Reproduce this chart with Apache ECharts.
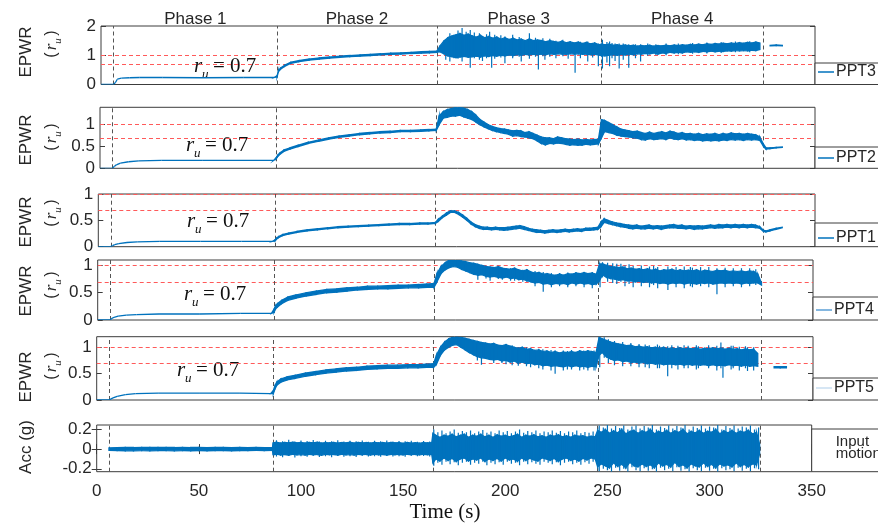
<!DOCTYPE html>
<html><head><meta charset="utf-8">
<script src="https://cdn.jsdelivr.net/npm/echarts@6/dist/echarts.min.js"></script>
<style>html,body{margin:0;padding:0;background:#fff}#c{width:878px;height:525px}</style>
</head><body><div id="c"></div>
<script>
// ---------- DATA ----------
const phaseBounds = [6.2, 86.3, 164.6, 245, 324.8];
const phaseNames = ['Phase 1', 'Phase 2', 'Phase 3', 'Phase 4'];
const thresholds = [1, 0.7];
const xTickValues = [0, 50, 100, 150, 200, 250, 300, 350];

// shared time samples for the EPWR panels (s)
const timeT = [0,6,7,8,10,14,19,30,50,70,85,
 86.3,87,88,90,93,97,102,107,112,117,122,127,132,137,142,147,152,157,161,164.6,
 166,168,170,172,174,176,178,180,182,184,186,188,190,192,194,196,198,200,202,204,206,208,210,212,214,216,218,220,222,224,226,228,230,232,234,236,238,240,242,244,
 245.5,
 247,249,251,253,255,257,259,261,263,265,267,269,271,273,275,277,279,281,283,285,287,289,291,293,295,297,299,301,303,305,307,309,311,313,315,317,319,321,323,
 324.8,326,328,331,334,337];

// PPT3: dense-core upper / lower envelope
const ppt3Hi = [0,0,0.06,0.18,0.22,0.23,0.24,0.24,0.23,0.24,0.24,
 0.3,0.48,0.56,0.66,0.76,0.82,0.87,0.91,0.94,0.97,0.99,1.01,1.03,1.05,1.07,1.08,1.1,1.12,1.13,1.14,
 1.3,1.48,1.6,1.66,1.7,1.74,1.68,1.72,1.66,1.62,1.68,1.6,1.64,1.58,1.62,1.55,1.6,1.54,1.58,1.52,1.55,1.5,1.56,1.5,1.52,1.5,1.46,1.5,1.47,1.44,1.48,1.43,1.46,1.42,1.45,1.4,1.44,1.39,1.42,1.36,
 1.38,
 1.36,1.38,1.34,1.36,1.33,1.35,1.32,1.34,1.31,1.33,1.32,1.34,1.31,1.33,1.32,1.34,1.32,1.35,1.33,1.36,1.34,1.37,1.35,1.38,1.36,1.39,1.37,1.4,1.38,1.41,1.39,1.42,1.4,1.43,1.41,1.44,1.42,1.45,1.42,
 null,null,1.34,1.35,1.34,null];
const ppt3Lo = [0,0,0.06,0.18,0.22,0.23,0.24,0.24,0.23,0.24,0.24,
 0.26,0.44,0.52,0.62,0.72,0.78,0.83,0.87,0.9,0.93,0.95,0.97,0.99,1.01,1.03,1.04,1.06,1.07,1.08,1.1,
 1.12,1.05,0.98,0.95,0.92,0.94,0.96,0.93,0.95,0.97,0.94,0.98,0.96,0.99,0.97,1.0,0.98,1.01,0.99,1.02,1.0,1.03,1.01,1.03,1.02,1.04,1.02,1.05,1.03,1.05,1.04,1.03,1.05,1.04,1.05,1.03,1.04,1.02,1.03,1.01,
 0.98,
 0.98,1.0,1.02,1.0,1.03,1.01,1.04,1.02,1.05,1.04,1.06,1.05,1.08,1.04,1.08,1.06,1.1,1.08,1.1,1.08,1.12,1.1,1.12,1.1,1.13,1.12,1.14,1.12,1.14,1.13,1.15,1.14,1.16,1.15,1.16,1.15,1.17,1.16,1.2,
 null,null,1.32,1.33,1.32,null];
// PPT3 isolated spikes
const ppt3SpikeT  = [169,171,173,175,177,179,181,183,185.5,187,189,190.5,191.5,193,196,198,201.8,205,206,210,213,214.4,216.6,217.6,220,223,226.4,229,232.4,235,238.6,241,243.8,245.8,248,249.3,250.5,252,254,256,258.7,262,264.5,268,272,277,283,290,297,304,311,318];
const ppt3SpikeLo = [0.85,0.79,0.9,0.88,0.79,0.95,0.57,0.9,0.85,0.8,0.9,0.95,0.57,0.88,0.92,0.73,0.9,0.95,0.79,0.88,0.95,0.51,0.97,0.85,0.95,0.9,0.97,0.88,0.4,0.9,0.79,0.92,0.62,0.55,0.75,0.62,0.9,0.8,0.55,0.85,0.57,0.9,0.79,0.98,1.0,1.0,1.03,1.05,1.06,1.08,1.1,1.1];
const ppt3SpikeHi = [1.55,1.75,1.7,1.85,1.93,1.8,1.86,1.78,1.75,1.65,1.72,1.8,1.6,1.7,1.68,1.64,1.7,1.62,1.5,1.75,1.6,1.45,1.58,1.45,1.56,1.5,1.53,1.45,1.4,1.46,1.47,1.42,1.4,1.53,1.45,1.47,1.42,1.4,1.4,1.4,1.38,1.38,1.38,1.4,1.38,1.4,1.4,1.42,1.44,1.45,1.47,1.48];

// PPT2
const ppt2Hi = [0,0,0.04,0.08,0.12,0.15,0.17,0.18,0.18,0.18,0.18,
 0.25,0.3,0.35,0.42,0.47,0.53,0.6,0.65,0.7,0.74,0.77,0.8,0.82,0.84,0.85,0.87,0.87,0.88,0.89,0.9,
 1.2,1.3,1.35,1.37,1.4,1.41,1.38,1.35,1.3,1.22,1.12,1.06,1.0,0.96,0.93,0.91,0.9,0.88,0.86,0.87,0.86,0.82,0.84,0.8,0.76,0.72,0.7,0.7,0.68,0.72,0.7,0.68,0.67,0.66,0.67,0.65,0.66,0.65,0.66,0.67,
 1.12,
 1.1,1.05,1.0,0.95,0.9,0.88,0.86,0.84,0.85,0.82,0.8,0.83,0.8,0.82,0.84,0.81,0.85,0.83,0.8,0.82,0.79,0.8,0.78,0.8,0.77,0.79,0.78,0.8,0.77,0.8,0.78,0.81,0.79,0.8,0.78,0.8,0.78,0.77,0.72,
 0.55,0.47,0.47,0.48,0.49,null];
const ppt2Lo = [0,0,0.04,0.08,0.12,0.15,0.17,0.18,0.18,0.18,0.18,
 0.22,0.27,0.32,0.39,0.44,0.5,0.57,0.62,0.67,0.71,0.74,0.77,0.79,0.81,0.82,0.84,0.84,0.85,0.86,0.87,
 1.0,1.15,1.17,1.2,1.2,1.22,1.18,1.15,1.12,1.06,1.0,0.95,0.91,0.87,0.84,0.82,0.8,0.78,0.74,0.75,0.73,0.72,0.7,0.68,0.63,0.57,0.54,0.57,0.56,0.58,0.57,0.55,0.53,0.54,0.53,0.53,0.55,0.54,0.55,0.56,
 0.7,
 0.84,0.82,0.8,0.76,0.74,0.73,0.72,0.7,0.69,0.66,0.65,0.68,0.66,0.67,0.68,0.66,0.7,0.67,0.66,0.68,0.65,0.66,0.64,0.65,0.63,0.64,0.63,0.64,0.63,0.65,0.64,0.66,0.65,0.66,0.64,0.66,0.65,0.66,0.64,
 0.5,0.44,0.45,0.47,0.48,null];

// PPT1
const ppt1Hi = [0,0,0.02,0.04,0.06,0.08,0.09,0.1,0.1,0.1,0.1,
 0.13,0.16,0.19,0.23,0.26,0.29,0.32,0.34,0.36,0.38,0.39,0.4,0.41,0.42,0.43,0.44,0.44,0.45,0.45,0.46,
 0.52,0.58,0.64,0.68,0.68,0.65,0.6,0.54,0.47,0.42,0.39,0.37,0.37,0.36,0.37,0.36,0.36,0.37,0.38,0.39,0.4,0.38,0.35,0.33,0.32,0.31,0.3,0.31,0.32,0.31,0.32,0.33,0.32,0.33,0.34,0.33,0.35,0.35,0.36,0.37,
 0.47,
 0.53,0.5,0.47,0.45,0.44,0.42,0.41,0.4,0.41,0.39,0.4,0.41,0.39,0.4,0.39,0.4,0.41,0.42,0.4,0.41,0.39,0.4,0.39,0.4,0.39,0.4,0.41,0.4,0.42,0.41,0.42,0.41,0.42,0.41,0.42,0.41,0.42,0.41,0.38,
 0.31,0.3,0.32,0.35,0.37,null];
const ppt1Lo = [0,0,0.02,0.04,0.06,0.08,0.09,0.1,0.1,0.1,0.1,
 0.11,0.14,0.17,0.21,0.24,0.27,0.3,0.32,0.34,0.36,0.37,0.38,0.39,0.4,0.41,0.42,0.42,0.43,0.43,0.44,
 0.48,0.55,0.6,0.65,0.65,0.61,0.56,0.5,0.43,0.38,0.35,0.33,0.33,0.32,0.33,0.32,0.31,0.32,0.33,0.34,0.35,0.33,0.31,0.29,0.27,0.27,0.26,0.27,0.28,0.27,0.28,0.29,0.28,0.29,0.3,0.29,0.31,0.31,0.32,0.33,
 0.38,
 0.46,0.44,0.42,0.4,0.38,0.37,0.35,0.34,0.35,0.34,0.34,0.35,0.34,0.35,0.33,0.35,0.36,0.36,0.35,0.35,0.34,0.35,0.33,0.34,0.34,0.35,0.36,0.35,0.36,0.36,0.37,0.36,0.37,0.36,0.37,0.36,0.37,0.36,0.35,
 0.29,0.28,0.3,0.33,0.36,null];

// PPT4
const ppt4Hi = [0,0,0.03,0.05,0.07,0.09,0.1,0.11,0.11,0.12,0.12,
 0.2,0.26,0.3,0.36,0.42,0.46,0.5,0.53,0.56,0.57,0.59,0.6,0.62,0.62,0.63,0.64,0.64,0.65,0.66,0.67,
 0.85,0.98,1.05,1.1,1.1,1.1,1.08,1.07,1.05,1.04,1.02,1.0,0.98,0.97,0.96,0.98,0.95,0.94,0.93,0.95,0.92,0.9,0.92,0.88,0.86,0.87,0.84,0.85,0.83,0.82,0.84,0.82,0.85,0.84,0.86,0.85,0.87,0.85,0.86,0.84,
 1.02,
 1.03,1.0,0.98,0.97,0.96,0.97,0.94,0.95,0.93,0.94,0.92,0.94,0.91,0.93,0.9,0.92,0.91,0.93,0.9,0.92,0.9,0.91,0.9,0.92,0.89,0.91,0.9,0.89,0.91,0.9,0.91,0.89,0.9,0.89,0.9,0.88,0.9,0.89,0.84,
 0.68,null,null,null,null,null];
const ppt4Lo = [0,0,0.03,0.05,0.07,0.09,0.1,0.11,0.11,0.12,0.12,
 0.14,0.2,0.24,0.3,0.36,0.4,0.44,0.47,0.5,0.51,0.53,0.55,0.56,0.57,0.57,0.58,0.59,0.59,0.6,0.6,
 0.7,0.85,0.92,0.96,0.98,0.97,0.93,0.9,0.87,0.84,0.82,0.83,0.8,0.79,0.8,0.78,0.77,0.79,0.76,0.77,0.74,0.75,0.72,0.7,0.68,0.69,0.66,0.67,0.65,0.67,0.66,0.67,0.65,0.68,0.66,0.68,0.66,0.67,0.65,0.66,
 0.72,
 0.83,0.78,0.76,0.75,0.73,0.74,0.72,0.72,0.7,0.71,0.69,0.7,0.68,0.69,0.67,0.68,0.66,0.68,0.67,0.68,0.66,0.68,0.67,0.66,0.68,0.67,0.68,0.66,0.67,0.68,0.67,0.68,0.67,0.68,0.66,0.68,0.67,0.68,0.68,
 0.64,null,null,null,null,null];
const ppt4SpikeT  = [186,190,192,196,198,202,204,208,210,214,218,222,226,230,234,238,242,245.8,247,249.5,252,254,256,258,260,262,266,270,272,274,279,283,287,290,291,295,299,303,307,311,315,319,322];
const ppt4SpikeLo = [0.74,0.76,0.72,0.75,0.74,0.72,0.72,0.7,0.7,0.62,0.52,0.6,0.62,0.6,0.62,0.6,0.58,0.6,0.78,0.7,0.68,0.66,0.7,0.62,0.66,0.6,0.62,0.6,0.64,0.58,0.55,0.6,0.58,0.62,0.6,0.62,0.6,0.47,0.6,0.62,0.6,0.62,0.64];
const ppt4SpikeHi = [1.0,0.99,0.96,0.97,0.95,0.95,0.93,0.92,0.93,0.9,0.88,0.86,0.86,0.87,0.88,0.88,0.88,1.04,1.06,1.05,1.04,1.03,1.03,1.0,1.02,0.99,1.0,0.98,0.99,0.97,0.98,0.97,0.98,0.97,0.96,0.97,0.97,0.95,0.96,0.95,0.95,0.95,0.93];

// PPT5
const ppt5Hi = [0,0,0.02,0.04,0.07,0.1,0.12,0.13,0.13,0.13,0.12,
 0.18,0.26,0.34,0.4,0.44,0.47,0.51,0.54,0.57,0.59,0.61,0.62,0.64,0.65,0.66,0.66,0.67,0.67,0.68,0.69,
 0.85,1.0,1.1,1.16,1.19,1.2,1.19,1.17,1.15,1.13,1.11,1.09,1.08,1.06,1.07,1.04,1.03,1.05,1.02,1.0,0.98,1.0,0.96,0.97,0.94,0.95,0.92,0.93,0.9,0.92,0.89,0.91,0.9,0.92,0.9,0.93,0.91,0.93,0.92,0.9,
 1.19,
 1.16,1.13,1.1,1.08,1.06,1.05,1.03,1.04,1.01,1.02,1.0,1.01,0.99,1.0,0.98,1.0,0.97,0.99,0.97,0.99,0.97,0.98,0.97,0.99,0.96,0.98,0.97,0.99,0.97,0.98,0.96,0.98,0.96,0.97,0.95,0.97,0.95,0.96,0.88,
 null,null,null,0.63,0.63,0.63];
const ppt5Lo = [0,0,0.02,0.04,0.07,0.1,0.12,0.13,0.13,0.13,0.12,
 0.12,0.2,0.28,0.34,0.38,0.41,0.45,0.48,0.51,0.53,0.55,0.56,0.58,0.59,0.6,0.6,0.61,0.61,0.62,0.62,
 0.68,0.85,0.95,1.0,1.04,1.05,1.0,0.95,0.9,0.86,0.82,0.8,0.79,0.77,0.76,0.77,0.74,0.75,0.72,0.74,0.7,0.72,0.69,0.7,0.67,0.68,0.65,0.66,0.64,0.65,0.64,0.63,0.65,0.63,0.65,0.63,0.64,0.62,0.64,0.63,
 0.85,
 0.9,0.82,0.78,0.75,0.76,0.73,0.74,0.71,0.72,0.7,0.71,0.69,0.7,0.68,0.69,0.67,0.68,0.68,0.67,0.68,0.66,0.68,0.66,0.67,0.66,0.67,0.65,0.67,0.65,0.66,0.65,0.67,0.65,0.66,0.64,0.66,0.64,0.65,0.64,
 null,null,null,0.61,0.61,0.61];
const ppt5SpikeT  = [186,188,194,198,200,203,206,210,212,216,218,222,224,228,230,232,236,238,240,243,245.8,248,250,253,257,261,265,268,270,274,275,279,281,284,287,289,293,294,299,303,305,306,310,311,314,317,318,321];
const ppt5SpikeLo = [0.75,0.67,0.7,0.7,0.68,0.66,0.65,0.64,0.62,0.6,0.58,0.56,0.5,0.56,0.58,0.58,0.56,0.58,0.56,0.56,0.62,0.8,0.7,0.66,0.64,0.64,0.62,0.62,0.6,0.6,0.6,0.45,0.6,0.58,0.6,0.6,0.58,0.6,0.6,0.56,0.6,0.42,0.58,0.6,0.56,0.6,0.55,0.56];
const ppt5SpikeHi = [1.1,1.08,1.08,1.04,1.06,1.04,1.0,1.0,0.99,0.97,0.96,0.95,0.94,0.94,0.93,0.95,0.94,0.94,0.95,0.94,1.2,1.19,1.15,1.12,1.1,1.08,1.06,1.05,1.04,1.05,1.03,1.02,1.04,1.03,1.04,1.03,1.04,1.02,1.04,1.03,1.09,1.0,1.03,1.03,1.01,1.02,1.0,1.0];

// Input motion (acceleration, g): dense core envelope
const accT = [6,10,14,18,22,26,30,34,38,42,46,50,54,58,62,66,70,74,78,82,86,
 86.4,88,90,92,94,96,98,100,102,104,106,108,110,112,114,116,118,120,122,124,126,128,130,132,134,136,138,140,142,144,146,148,150,152,154,156,158,160,162,164,
 164.6,166,168,170,172,174,176,178,180,182,184,186,188,190,192,194,196,198,200,202,204,206,208,210,212,214,216,218,220,222,224,226,228,230,232,234,236,238,240,242,244,
 245.2,247,249,251,253,255,257,259,261,263,265,267,269,271,273,275,277,279,281,283,285,287,289,291,293,295,297,299,301,303,305,307,309,311,313,315,317,319,321,323,
 324.5];
const accHi = [0.012,0.015,0.017,0.016,0.018,0.017,0.016,0.017,0.016,0.018,0.016,0.017,0.015,0.017,0.016,0.015,0.016,0.014,0.016,0.015,0.014,
 0.065,0.07,0.062,0.068,0.064,0.07,0.063,0.067,0.061,0.068,0.064,0.069,0.062,0.066,0.063,0.068,0.061,0.066,0.063,0.069,0.062,0.067,0.064,0.066,0.061,0.068,0.063,0.066,0.061,0.067,0.064,0.066,0.06,0.067,0.062,0.065,0.06,0.066,0.063,0.065,
 0.16,0.14,0.12,0.14,0.13,0.15,0.125,0.14,0.15,0.12,0.14,0.13,0.15,0.125,0.14,0.12,0.145,0.13,0.14,0.125,0.135,0.15,0.12,0.14,0.13,0.145,0.125,0.135,0.12,0.14,0.13,0.145,0.125,0.135,0.12,0.14,0.13,0.135,0.12,0.13,0.125,
 0.19,0.17,0.2,0.16,0.185,0.165,0.2,0.155,0.18,0.19,0.16,0.185,0.17,0.2,0.155,0.18,0.165,0.19,0.16,0.185,0.17,0.2,0.155,0.18,0.165,0.19,0.16,0.18,0.17,0.2,0.155,0.185,0.165,0.19,0.16,0.18,0.17,0.19,0.155,0.17,
 0.05];
const accLo = [-0.012,-0.015,-0.017,-0.018,-0.015,-0.018,-0.016,-0.016,-0.018,-0.016,-0.017,-0.015,-0.017,-0.016,-0.016,-0.017,-0.015,-0.016,-0.014,-0.015,-0.014,
 -0.058,-0.052,-0.06,-0.055,-0.062,-0.053,-0.058,-0.056,-0.061,-0.054,-0.059,-0.055,-0.063,-0.053,-0.057,-0.055,-0.06,-0.053,-0.058,-0.056,-0.061,-0.054,-0.057,-0.055,-0.06,-0.053,-0.058,-0.055,-0.06,-0.054,-0.057,-0.055,-0.059,-0.053,-0.057,-0.055,-0.058,-0.053,-0.057,-0.055,
 -0.14,-0.1,-0.12,-0.09,-0.115,-0.095,-0.125,-0.1,-0.09,-0.12,-0.1,-0.11,-0.09,-0.125,-0.1,-0.115,-0.095,-0.12,-0.09,-0.11,-0.1,-0.125,-0.09,-0.115,-0.095,-0.11,-0.12,-0.09,-0.1,-0.115,-0.095,-0.125,-0.1,-0.09,-0.115,-0.1,-0.12,-0.095,-0.11,-0.09,-0.1,
 -0.18,-0.15,-0.17,-0.19,-0.14,-0.175,-0.155,-0.19,-0.135,-0.17,-0.18,-0.15,-0.175,-0.16,-0.19,-0.14,-0.17,-0.155,-0.18,-0.135,-0.175,-0.16,-0.19,-0.15,-0.17,-0.18,-0.14,-0.175,-0.155,-0.19,-0.15,-0.17,-0.16,-0.18,-0.14,-0.175,-0.155,-0.18,-0.15,-0.16,
 -0.05];
// Input motion peaks
const accSpikeT = [88,91,94,97,100,103,106,109,112,115,118,121,124,127,130,133,136,139,142,145,148,151,154,157,160,163,
 165,167,169,171,173,175,177,179,181,183,185,187,189,191,193,195,197,199,201,203,205,207,209,211,213,215,217,219,221,223,225,227,229,231,233,235,237,239,241,243,
 246,248,250,252,254,256,258,260,262,264,266,268,270,272,274,276,278,280,282,284,286,288,290,292,294,296,298,300,302,304,306,308,310,312,314,316,318,320,322,324];
const accSpikeHi = [0.09,0.08,0.095,0.078,0.088,0.082,0.092,0.076,0.086,0.08,0.09,0.078,0.085,0.08,0.088,0.075,0.084,0.08,0.087,0.076,0.083,0.079,0.086,0.075,0.082,0.078,
 0.2,0.17,0.19,0.16,0.18,0.2,0.165,0.185,0.17,0.19,0.16,0.18,0.195,0.165,0.18,0.16,0.19,0.17,0.185,0.16,0.18,0.2,0.165,0.185,0.17,0.19,0.16,0.18,0.17,0.19,0.165,0.185,0.16,0.18,0.17,0.19,0.16,0.175,0.165,0.18,
 0.24,0.22,0.245,0.21,0.235,0.215,0.24,0.2,0.23,0.24,0.21,0.235,0.22,0.245,0.2,0.23,0.215,0.24,0.21,0.235,0.22,0.245,0.2,0.23,0.215,0.24,0.21,0.23,0.22,0.245,0.2,0.235,0.215,0.24,0.21,0.23,0.22,0.24,0.2,0.22];
const accSpikeLo = [-0.075,-0.082,-0.07,-0.085,-0.072,-0.078,-0.068,-0.08,-0.074,-0.083,-0.07,-0.078,-0.072,-0.08,-0.068,-0.076,-0.073,-0.079,-0.07,-0.075,-0.072,-0.078,-0.069,-0.074,-0.071,-0.076,
 -0.17,-0.14,-0.16,-0.13,-0.155,-0.135,-0.165,-0.14,-0.13,-0.16,-0.14,-0.15,-0.13,-0.165,-0.14,-0.155,-0.135,-0.16,-0.13,-0.15,-0.14,-0.165,-0.13,-0.155,-0.135,-0.15,-0.16,-0.13,-0.14,-0.155,-0.135,-0.165,-0.14,-0.13,-0.155,-0.14,-0.16,-0.135,-0.15,-0.13,
 -0.225,-0.2,-0.215,-0.23,-0.19,-0.22,-0.2,-0.23,-0.185,-0.215,-0.225,-0.195,-0.22,-0.205,-0.23,-0.19,-0.215,-0.2,-0.225,-0.185,-0.22,-0.205,-0.23,-0.195,-0.215,-0.225,-0.19,-0.22,-0.2,-0.23,-0.195,-0.215,-0.205,-0.225,-0.19,-0.22,-0.2,-0.225,-0.195,-0.205];

// ---------- LAYOUT ----------
const BLUE = '#0072BD';
const panels = [
  {name:'PPT3', T:timeT, lo:ppt3Lo, hi:ppt3Hi, sT:ppt3SpikeT, sLo:ppt3SpikeLo, sHi:ppt3SpikeHi, min:0, max:2, ticks:[0,1,2], l:101, r:815, t:26, h:58.5, legTop:63, legY:72, legColor:BLUE, ruX:194, ruY:66, epY:52, rpY:43},
  {name:'PPT2', T:timeT, lo:ppt2Lo, hi:ppt2Hi, min:0, max:1.4, ticks:[0,0.5,1], l:100, r:815, t:107.3, h:61, legTop:147, legY:158, legColor:BLUE, ruX:186, ruY:145, epY:140, rpY:136},
  {name:'PPT1', T:timeT, lo:ppt1Lo, hi:ppt1Hi, min:0, max:1, ticks:[0,0.5,1], l:98.3, r:815, t:194, h:52.7, legTop:223, legY:238, legColor:BLUE, ruX:187, ruY:221, epY:222, rpY:212},
  {name:'PPT4', T:timeT, lo:ppt4Lo, hi:ppt4Hi, sT:ppt4SpikeT, sLo:ppt4SpikeLo, sHi:ppt4SpikeHi, min:0, max:1.1, ticks:[0,0.5,1], l:97.7, r:813, t:260, h:60, legTop:297, legY:310, legColor:'#5b9fd6', ruX:184, ruY:294, epY:291, rpY:284},
  {name:'PPT5', T:timeT, lo:ppt5Lo, hi:ppt5Hi, sT:ppt5SpikeT, sLo:ppt5SpikeLo, sHi:ppt5SpikeHi, min:0, max:1.2, ticks:[0,0.5,1], l:96.7, r:813, t:336.7, h:63.3, legTop:378, legY:388, legColor:'#c9def0', ruX:177, ruY:370, epY:377, rpY:365},
  {name:'Input motion', T:accT, lo:accLo, hi:accHi, sT:accSpikeT, sLo:accSpikeLo, sHi:accSpikeHi, min:-0.23, max:0.245, ticks:[-0.2,0,0.2], l:96.7, r:811.7, t:425, h:46.7, legTop:429}
];

function bandItems(T, LO, HI) {
  const out = [];
  for (let i = 0; i < T.length - 1; i++) {
    if (LO[i] == null || LO[i + 1] == null) continue;
    out.push([T[i], LO[i], HI[i], T[i + 1], LO[i + 1], HI[i + 1]]);
  }
  return out;
}
function spikeItems(T, LO, HI) {
  return T.map((t, i) => [t, LO[i], HI[i]]);
}

const FONT = 'Liberation Sans, Arial, sans-serif';
const SERIF = 'Liberation Serif, Times New Roman, serif';
const TXT = '#262626';
const AX = '#3c3c3c';

const grids = [], xAxes = [], yAxes = [], series = [];
panels.forEach((p, i) => {
  const isAcc = i === 5;
  grids.push({left: p.l, width: p.r - p.l, top: p.t, height: p.h, show: true,
    borderColor: AX, borderWidth: 1, backgroundColor: 'transparent'});
  xAxes.push({type: 'value', gridIndex: i, min: 0, max: 350, interval: 50,
    axisLine: {show: false}, splitLine: {show: false},
    axisTick: {show: isAcc, inside: true, length: 5, lineStyle: {color: AX}},
    axisLabel: {show: isAcc, margin: 11, fontSize: 17, fontFamily: FONT, color: TXT, customValues: xTickValues}});
  yAxes.push({type: 'value', gridIndex: i, min: p.min, max: p.max,
    axisLine: {show: false}, splitLine: {show: false},
    axisTick: {show: true, inside: true, length: 5, customValues: p.ticks, lineStyle: {color: AX}},
    axisLabel: {show: true, margin: 5, fontSize: 17, fontFamily: FONT, color: TXT, customValues: p.ticks}});
  const ml = [];
  if (!isAcc) thresholds.forEach(v => ml.push({yAxis: v, lineStyle: {color: '#ff5a5a', width: 1.2, type: [4, 3]}}));
  phaseBounds.forEach(b => ml.push({xAxis: b, lineStyle: {color: '#555', width: 1, type: [4, 3]}}));
  series.push({type: 'line', xAxisIndex: i, yAxisIndex: i, data: [], z: 1,
    markLine: {z: 1, silent: true, symbol: 'none', animation: false, label: {show: false}, data: ml}});
  series.push({type: 'custom', xAxisIndex: i, yAxisIndex: i, z: 3, clip: true,
    data: bandItems(p.T, p.lo, p.hi),
    encode: {x: [0, 3], y: [1, 2, 4, 5]},
    renderItem: function (params, api) {
      const a = api.coord([api.value(0), api.value(1)]);
      const b = api.coord([api.value(3), api.value(4)]);
      const c = api.coord([api.value(3), api.value(5)]);
      const d = api.coord([api.value(0), api.value(2)]);
      return {type: 'polygon', shape: {points: [a, b, c, d]},
        style: {fill: BLUE, stroke: BLUE, lineWidth: 1.3}};
    }});
  if (p.sT) {
    series.push({type: 'custom', xAxisIndex: i, yAxisIndex: i, z: 3, clip: true,
      data: spikeItems(p.sT, p.sLo, p.sHi),
      encode: {x: 0, y: [1, 2]},
      renderItem: function (params, api) {
        const a = api.coord([api.value(0), api.value(1)]);
        const b = api.coord([api.value(0), api.value(2)]);
        return {type: 'line', shape: {x1: a[0], y1: a[1], x2: b[0], y2: b[1]},
          style: {stroke: BLUE, lineWidth: 1.2}};
      }});
  }
});

xAxes.push({type: 'value', gridIndex: 5, position: 'top', min: 0, max: 350, interval: 50,
  axisLine: {show: false}, splitLine: {show: false}, axisLabel: {show: false},
  axisTick: {show: true, inside: true, length: 5, lineStyle: {color: AX}}});
panels.forEach((p, i) => {
  yAxes.push({type: 'value', gridIndex: i, position: 'right', min: p.min, max: p.max,
    axisLine: {show: false}, splitLine: {show: false}, axisLabel: {show: false},
    axisTick: {show: true, inside: true, length: 5, customValues: p.ticks, lineStyle: {color: AX}}});
});

const chart = echarts.init(document.getElementById('c'), null, {renderer: 'canvas'});
chart.setOption({animation: false, backgroundColor: '#fff', grid: grids, xAxis: xAxes, yAxis: yAxes, series: series});

// ---------- TEXT / LEGENDS ----------
const g = [];
for (let k = 0; k < 4; k++) {
  const mid = (phaseBounds[k] + phaseBounds[k + 1]) / 2;
  const px = chart.convertToPixel({gridIndex: 0}, [mid, 0])[0];
  g.push({type: 'text', x: px, y: 19, style: {text: phaseNames[k], font: '17px ' + FONT, fill: TXT, align: 'center', verticalAlign: 'middle'}});
}
panels.forEach((p, i) => {
  const bottom = p.t + p.h;
  if (i < 5) {
    g.push({type: 'text', x: 26, y: p.epY, rotation: Math.PI / 2,
      style: {text: 'EPWR', font: '17px ' + FONT, fill: TXT, align: 'center', verticalAlign: 'middle'}});
    g.push({type: 'group', x: 52, y: p.rpY, rotation: Math.PI / 2, children: [
      {type: 'text', x: -12, y: 0, style: {text: '(', font: '16px ' + FONT, fill: TXT, align: 'center', verticalAlign: 'middle'}},
      {type: 'text', x: -4, y: 0, style: {text: 'r', font: 'italic 17px ' + SERIF, fill: TXT, align: 'center', verticalAlign: 'middle'}},
      {type: 'text', x: 2, y: 6, style: {text: 'u', font: 'italic 11px ' + SERIF, fill: TXT, align: 'center', verticalAlign: 'middle'}},
      {type: 'text', x: 10, y: 0, style: {text: ')', font: '16px ' + FONT, fill: TXT, align: 'center', verticalAlign: 'middle'}}
    ]});
    g.push({type: 'text', x: p.ruX, y: p.ruY, style: {text: 'r', font: 'italic 21px ' + SERIF, fill: '#111', align: 'left', verticalAlign: 'middle'}});
    g.push({type: 'text', x: p.ruX + 8, y: p.ruY + 9, style: {text: 'u', font: 'italic 13px ' + SERIF, fill: '#111', align: 'left', verticalAlign: 'middle'}});
    g.push({type: 'text', x: p.ruX + 19, y: p.ruY, style: {text: '= 0.7', font: '21px ' + SERIF, fill: '#111', align: 'left', verticalAlign: 'middle'}});
    g.push({type: 'rect', shape: {x: p.r, y: p.legTop, width: 90, height: bottom - p.legTop}, style: {fill: '#fff', stroke: AX, lineWidth: 1}, z: 10});
    g.push({type: 'line', shape: {x1: p.r + 3, y1: p.legY, x2: p.r + 19, y2: p.legY}, style: {stroke: p.legColor, lineWidth: 1.5}, z: 11});
    g.push({type: 'text', x: p.r + 21, y: p.legY, style: {text: p.name, font: '16px ' + FONT, fill: TXT, align: 'left', verticalAlign: 'middle'}, z: 11});
  } else {
    g.push({type: 'text', x: 26, y: 447, rotation: Math.PI / 2,
      style: {text: 'Acc (g)', font: '17px ' + FONT, fill: TXT, align: 'center', verticalAlign: 'middle'}});
    g.push({type: 'rect', shape: {x: p.r, y: p.legTop, width: 90, height: bottom - p.legTop}, style: {fill: '#fff', stroke: AX, lineWidth: 1}, z: 10});
    g.push({type: 'text', x: p.r + 24, y: 442, style: {text: 'Input', font: '15px ' + FONT, fill: TXT, align: 'left', verticalAlign: 'middle'}, z: 11});
    g.push({type: 'text', x: p.r + 24, y: 454, style: {text: 'motion', font: '15px ' + FONT, fill: TXT, align: 'left', verticalAlign: 'middle'}, z: 11});
  }
});
g.push({type: 'text', x: 445, y: 512, style: {text: 'Time (s)', font: '21px ' + SERIF, fill: '#111', align: 'center', verticalAlign: 'middle'}});
chart.setOption({graphic: {elements: g}});
</script>
</body></html>
